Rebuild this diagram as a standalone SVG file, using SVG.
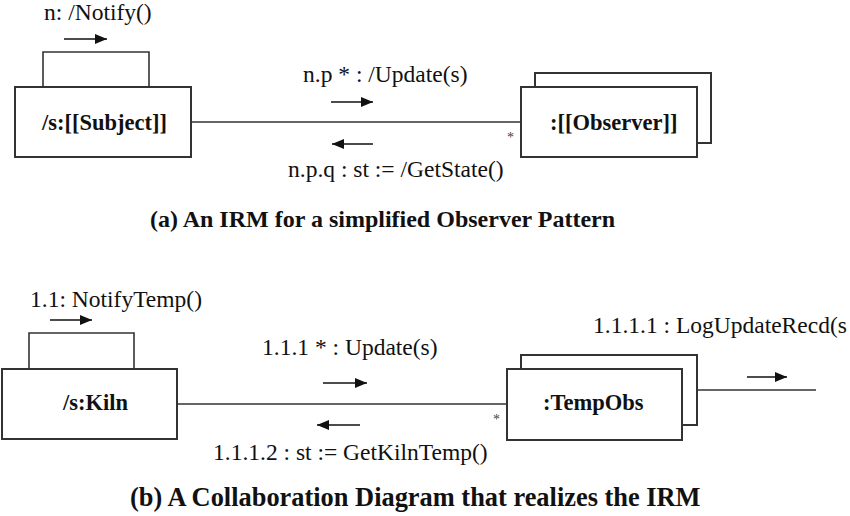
<svg xmlns="http://www.w3.org/2000/svg" width="850" height="516" viewBox="0 0 850 516">
<style>
.t{font-size:23.5px;fill:#111}
.b{font-size:22.5px;font-weight:bold;fill:#111}
.c{font-weight:bold;fill:#111}
.s{font-size:14px;fill:#444}
.box{fill:#fff;stroke:#333;stroke-width:2}
.ln{fill:none;stroke:#333;stroke-width:1.6}
.ar{fill:none;stroke:#111;stroke-width:1.6}
</style>
<defs>
<marker id="ah" viewBox="0 0 12 10" refX="12" refY="5" markerWidth="12" markerHeight="10" markerUnits="userSpaceOnUse" orient="auto">
<path d="M0,0 L12,5 L0,10 Z" fill="#111"/>
</marker>
</defs>
<g id="connectors">
<path class="ln" d="M43,87 V52 H149 V87"/>
<line class="ln" x1="191" y1="122" x2="521" y2="122"/>
<path class="ln" d="M29,369 V333 H134 V369"/>
<line class="ln" x1="177" y1="404" x2="507" y2="404"/>
<line class="ln" x1="697" y1="390" x2="816" y2="390"/>
<line class="ar" x1="64" y1="39" x2="107" y2="39" marker-end="url(#ah)"/>
<line class="ar" x1="331" y1="102" x2="373" y2="102" marker-end="url(#ah)"/>
<line class="ar" x1="373" y1="144" x2="332" y2="144" marker-end="url(#ah)"/>
<line class="ar" x1="50" y1="320" x2="92" y2="320" marker-end="url(#ah)"/>
<line class="ar" x1="323" y1="383" x2="367" y2="383" marker-end="url(#ah)"/>
<line class="ar" x1="360" y1="425" x2="317" y2="425" marker-end="url(#ah)"/>
<line class="ar" x1="747" y1="377" x2="787" y2="377" marker-end="url(#ah)"/>
<text class="t" font-family="Liberation Serif, serif" x="44" y="20">n: /Notify()</text>
<text class="t" font-family="Liberation Serif, serif" x="303" y="82">n.p * : /Update(s)</text>
<text class="t" font-family="Liberation Serif, serif" x="288" y="177">n.p.q : st := /GetState()</text>
<text class="s" font-family="Liberation Serif, serif" x="507" y="142">*</text>
<text class="t" font-family="Liberation Serif, serif" x="30" y="307">1.1: NotifyTemp()</text>
<text class="t" font-family="Liberation Serif, serif" x="262" y="355">1.1.1 * : Update(s)</text>
<text class="t" font-family="Liberation Serif, serif" x="213" y="460">1.1.1.2 : st := GetKilnTemp()</text>
<text class="s" font-family="Liberation Serif, serif" x="493" y="424">*</text>
<text class="t" font-family="Liberation Serif, serif" x="593" y="333">1.1.1.1 : LogUpdateRecd(s</text>
</g>
<g id="subject">
<rect class="box" x="15" y="87" width="176" height="70"/>
<text class="b" font-family="Liberation Serif, serif" x="42" y="130">/s:[[Subject]]</text>
</g>
<g id="observer">
<rect class="box" x="535" y="73" width="176" height="70"/>
<rect class="box" x="521" y="87" width="176" height="70"/>
<text class="b" font-family="Liberation Serif, serif" x="550" y="130">:[[Observer]]</text>
</g>
<g id="kiln">
<rect class="box" x="2" y="369" width="175" height="70"/>
<text class="b" font-family="Liberation Serif, serif" x="63" y="410">/s:Kiln</text>
</g>
<g id="tempobs">
<rect class="box" x="521" y="355" width="176" height="70"/>
<rect class="box" x="507" y="369" width="175" height="71"/>
<text class="b" font-family="Liberation Serif, serif" x="543" y="410">:TempObs</text>
</g>
<g id="captions">
<text class="c" font-family="Liberation Serif, serif" font-size="24" x="150" y="227">(a) An IRM for a simplified Observer Pattern</text>
<text class="c" font-family="Liberation Serif, serif" font-size="26.4" x="130" y="506">(b) A Collaboration Diagram that realizes the IRM</text>
</g>
</svg>
